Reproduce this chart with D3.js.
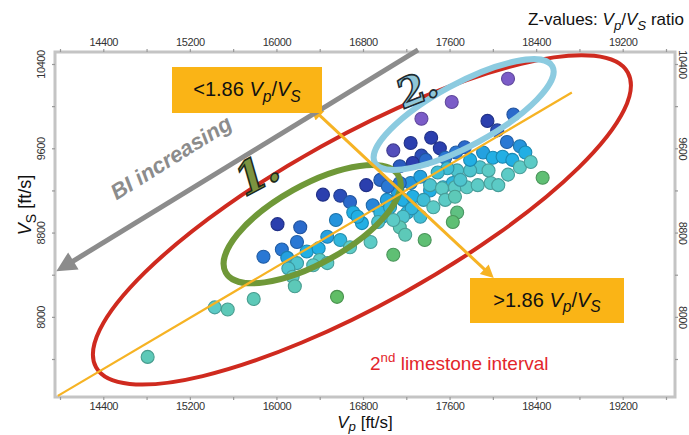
<!DOCTYPE html>
<html><head><meta charset="utf-8">
<script src="https://cdn.jsdelivr.net/npm/d3@7"></script>
<style>
body{margin:0;background:#fff;}
svg{display:block;font-family:"Liberation Sans",Arial,sans-serif;}
</style></head><body>
<svg id="chart" width="689" height="435"></svg>
<script>
// P-wave velocity [ft/s] of each sample
const vp = [18140,17620,17340,17080,17950,17430,17240,17510,17340,17260,17140,18040,16830,16430,16590,16010,
  18190,17740,18130,18250,16680,16960,16220,16190,16050,15880,16890,17560,17660,17380,16550,
  17910,18000,18090,18180,16100,16280,16390,16470,16590,16710,16790,16980,17020,17120,17170,17260,17420,17540,17630,16750,16960,17210,17330,
  18250,17880,17790,17670,17580,17490,17420,17530,17650,17760,17860,17980,18050,18140,17360,17450,17560,17650,17250,17170,17050,17140,17190,
  16680,16870,17080,16940,16400,16470,16340,16190,16110,16150,16170,15790,15430,15550,14810,
  17670,17630,17370,18460,17080,16560,
  18300,18350,17960,17700,17790,17240,17330,17140,17030];
// S-wave velocity [ft/s] of each sample
const vs = [10260,10040,9880,9580,9860,9700,9650,9600,9530,9460,9430,9770,9250,9160,9150,8880,
  9920,9610,9660,9620,9090,9300,8850,8710,8640,8570,9060,9510,9560,9490,8920,
  9560,9510,9520,9490,8560,8620,8650,8760,8730,8990,8890,8950,9110,9190,9110,9140,9200,9230,9270,8950,8990,8990,8950,
  9420,9420,9390,9390,9410,9370,9250,9220,9230,9230,9250,9270,9250,9350,9110,9040,9110,9140,9030,8950,9040,8850,8780,
  8660,8710,8920,8900,8540,8510,8490,8510,8460,8380,8290,8170,8090,8070,7620,
  8990,8900,8730,9320,8590,8190,
  9560,9470,9390,9300,9490,9270,9330,9270,9240];
// Z-value (Vp/Vs ratio) used for the point colour
const ratio = [1.76,1.76,1.76,1.78,1.80,1.80,1.80,1.80,1.81,1.80,1.82,1.81,1.80,1.80,1.81,1.80,
  1.83,1.83,1.84,1.86,1.83,1.83,1.83,1.84,1.84,1.84,1.85,1.84,1.84,1.83,1.86,
  1.87,1.88,1.88,1.88,1.87,1.88,1.88,1.87,1.89,1.88,1.88,1.88,1.87,1.87,1.88,1.88,1.88,1.89,1.89,1.88,1.89,1.89,1.90,
  1.92,1.91,1.91,1.91,1.90,1.90,1.91,1.92,1.92,1.92,1.92,1.92,1.92,1.92,1.90,1.92,1.92,1.93,1.89,1.91,1.89,1.93,1.93,
  1.92,1.92,1.92,1.91,1.92,1.92,1.92,1.91,1.91,1.92,1.93,1.93,1.92,1.93,1.93,
  1.97,1.98,1.98,1.98,1.98,1.99,
  1.88,1.92,1.92,1.91,1.88,1.86,1.87,1.84,1.84];

const xTickValues = [14000,14400,14800,15200,15600,16000,16400,16800,17200,17600,18000,18400,18800,19200,19600];
const yTickValues = [7600,8000,8400,8800,9200,9600,10000,10400];
const xTickLabels = ["14400","15200","16000","16800","17600","18400","19200"];
const yTickLabels = ["8000","8800","9600","10400"];

// trend line of constant ratio and the ratio arrow (data units)
const trendVp = [13980, 18730];
const trendVs = [7250, 10130];
const ratioArrowVp = [16385, 17938];
const ratioArrowVs = [9926, 8436];
const biArrowVp = [17309, 14092];
const biArrowVs = [10533, 8511];

const svg = d3.select("#chart");
const x = d3.scaleLinear().domain([14000, 19600]).range([60, 666]);
const y = d3.scaleLinear().domain([7600, 10400]).range([359, 64]);
const frame = {x0: 55, x1: 675, y0: 52, y1: 397};

const colour = d3.scaleLinear()
  .domain([1.76, 1.80, 1.84, 1.88, 1.92, 1.98])
  .range(["#7b5cc8", "#2b3fae", "#2a78d4", "#22afe4", "#5ccbc6", "#5fbf74"]);

// frame
svg.append("rect").attr("x", frame.x0).attr("y", frame.y0)
  .attr("width", frame.x1 - frame.x0).attr("height", frame.y1 - frame.y0)
  .attr("fill", "#fff").attr("stroke", "#c4c4c4").attr("stroke-width", 3);

function styleAxis(g) {
  g.select(".domain").remove();
  g.selectAll(".tick line").attr("stroke", "#999").attr("stroke-width", 1.2);
  g.selectAll(".tick text").attr("fill", "#333").attr("font-size", 11)
    .attr("font-family", "Liberation Sans, Arial, sans-serif").attr("letter-spacing", "-0.4");
}
const xFmt = d => xTickLabels.includes(String(d)) ? String(d) : "";
const yFmt = d => yTickLabels.includes(String(d)) ? String(d) : "";

svg.append("g").attr("transform", `translate(0,${frame.y1})`)
  .call(d3.axisBottom(x).tickValues(xTickValues).tickFormat(xFmt).tickSize(3).tickPadding(2)).call(styleAxis);
svg.append("g").attr("transform", `translate(0,${frame.y0})`)
  .call(d3.axisTop(x).tickValues(xTickValues).tickFormat(xFmt).tickSize(3).tickPadding(3)).call(styleAxis);
const yl = svg.append("g").attr("transform", `translate(${frame.x0},0)`)
  .call(d3.axisLeft(y).tickValues(yTickValues).tickFormat(yFmt).tickSize(3).tickPadding(0)).call(styleAxis);
yl.selectAll(".tick text").attr("text-anchor", "middle").attr("x", 0).attr("dy", 0)
  .attr("transform", "translate(-10,0) rotate(-90)");
const yr = svg.append("g").attr("transform", `translate(${frame.x1},0)`)
  .call(d3.axisRight(y).tickValues(yTickValues).tickFormat(yFmt).tickSize(3).tickPadding(0)).call(styleAxis);
yr.selectAll(".tick text").attr("text-anchor", "middle").attr("x", 0).attr("dy", 0)
  .attr("transform", "translate(4,0) rotate(90)");

// rich text helper: parts = [text, italic?, "sub"|"sup"|null]
function rich(sel, parts, size, subShift = 0.28) {
  let shift = 0;
  parts.forEach(([t, it, pos]) => {
    const ts = sel.append("tspan").text(t);
    if (it) ts.attr("font-style", "italic");
    let target = 0;
    if (pos === "sub") { target = size * subShift; ts.attr("font-size", size * 0.78); }
    if (pos === "sup") { target = -size * 0.4; ts.attr("font-size", size * 0.7); }
    if (target !== shift) { ts.attr("dy", target - shift); shift = target; }
  });
  return sel;
}

// axis titles
rich(svg.append("text").attr("x", 365).attr("y", 427.5).attr("text-anchor", "middle")
  .attr("font-size", 17).attr("fill", "#111"),
  [["V", true], ["p", true, "sub"], [" [ft/s]", false]], 17, 0.18);
rich(svg.append("text").attr("transform", "translate(31,205) rotate(-90)").attr("text-anchor", "middle")
  .attr("font-size", 18).attr("fill", "#111"),
  [["V", true], ["S", false, "sub"], [" [ft/s]", false]], 18);
rich(svg.append("text").attr("x", 684).attr("y", 25).attr("text-anchor", "end")
  .attr("font-size", 17).attr("fill", "#111"),
  [["Z-values: ", false], ["V", true], ["p", true, "sub"], ["/", false], ["V", true], ["S", true, "sub"], [" ratio", false]], 17);

// scatter points
const pts = vp.map((v, i) => ({vp: v, vs: vs[i], z: ratio[i]}));
svg.append("g").selectAll("circle").data(pts).join("circle")
  .attr("cx", d => x(d.vp)).attr("cy", d => y(d.vs)).attr("r", 6.5)
  .attr("fill", d => colour(d.z))
  .attr("stroke", d => d3.color(colour(d.z)).darker(0.7))
  .attr("stroke-width", 1.1);

// ellipses (centre in data units, axes in px, angle in degrees)
const ellipses = [
  {vp: 16790, vs: 8920, rx: 304, ry: 84, angle: -29, stroke: "#cf2a1f", width: 4},
  {vp: 16330, vs: 8880, rx: 99, ry: 39, angle: -29.2, stroke: "#6f9838", width: 6},
  {vp: 17730, vs: 9920, rx: 101, ry: 31, angle: -28.5, stroke: "#8ccbe0", width: 6}
];
svg.append("g").selectAll("ellipse").data(ellipses).join("ellipse")
  .attr("transform", d => `translate(${x(d.vp)},${y(d.vs)}) rotate(${d.angle})`)
  .attr("rx", d => d.rx).attr("ry", d => d.ry)
  .attr("fill", "none").attr("stroke", d => d.stroke).attr("stroke-width", d => d.width);

// constant-ratio trend line
svg.append("line")
  .attr("x1", x(trendVp[0])).attr("y1", y(trendVs[0]))
  .attr("x2", x(trendVp[1])).attr("y2", y(trendVs[1]))
  .attr("stroke", "#f6b324").attr("stroke-width", 2.2);

const defs = svg.append("defs");
function marker(id, color, w, h) {
  defs.append("marker").attr("id", id).attr("viewBox", "0 0 10 10").attr("refX", 2).attr("refY", 5)
    .attr("markerWidth", w).attr("markerHeight", h).attr("orient", "auto-start-reverse")
    .attr("markerUnits", "userSpaceOnUse")
    .append("path").attr("d", "M0,0 L10,5 L0,10 Z").attr("fill", color);
}
marker("headO", "#f6b324", 14, 13);
marker("headG", "#8c8c8c", 22, 20);

// ratio arrow (double headed)
svg.append("line")
  .attr("x1", x(ratioArrowVp[0])).attr("y1", y(ratioArrowVs[0]))
  .attr("x2", x(ratioArrowVp[1])).attr("y2", y(ratioArrowVs[1]))
  .attr("stroke", "#f6b324").attr("stroke-width", 3)
  .attr("marker-start", "url(#headO)").attr("marker-end", "url(#headO)");

// brittleness index arrow
svg.append("line")
  .attr("x1", x(biArrowVp[0])).attr("y1", y(biArrowVs[0]))
  .attr("x2", x(biArrowVp[1])).attr("y2", y(biArrowVs[1]))
  .attr("stroke", "#8c8c8c").attr("stroke-width", 5)
  .attr("marker-end", "url(#headG)");
rich(svg.append("text").attr("transform", "translate(175,164) rotate(-32)").attr("text-anchor", "middle")
  .attr("font-size", 22).attr("font-weight", "bold").attr("font-style", "italic").attr("fill", "#8c8c8c"),
  [["BI", true], ["  increasing", true]], 22);

// cluster numbers
svg.append("text").attr("transform", "translate(262,188) rotate(-28) skewX(-12)")
  .attr("text-anchor", "middle").attr("font-family", "DejaVu Serif, serif").attr("font-weight", "bold")
  .attr("font-size", 44).attr("fill", "#7c9440").attr("stroke", "#1e2a1a").attr("stroke-width", 1.6)
  .text("1.");
svg.append("text").attr("transform", "translate(421,102) rotate(-22) skewX(-8)")
  .attr("text-anchor", "middle").attr("font-family", "DejaVu Serif, serif").attr("font-weight", "bold")
  .attr("font-size", 40).attr("fill", "#8fc6d8").attr("stroke", "#1d2a30").attr("stroke-width", 1.6)
  .text("2.");

// ratio boxes
function box(x0, y0, w, h, op) {
  svg.append("rect").attr("x", x0).attr("y", y0).attr("width", w).attr("height", h).attr("fill", "#fab416");
  rich(svg.append("text").attr("x", x0 + w / 2).attr("y", y0 + h / 2 + 6).attr("text-anchor", "middle")
    .attr("font-size", 20).attr("fill", "#111"),
    [[op + "1.86 ", false], ["V", true], ["p", true, "sub"], ["/", false], ["V", true], ["S", true, "sub"]], 20);
}
box(172, 67, 150, 46, "<");
box(470, 278, 154, 45, ">");

// interval label
rich(svg.append("text").attr("x", 370).attr("y", 370).attr("font-size", 19).attr("fill", "#e3262b"),
  [["2", false], ["nd", false, "sup"], [" limestone interval", false]], 19);
</script>
</body></html>
